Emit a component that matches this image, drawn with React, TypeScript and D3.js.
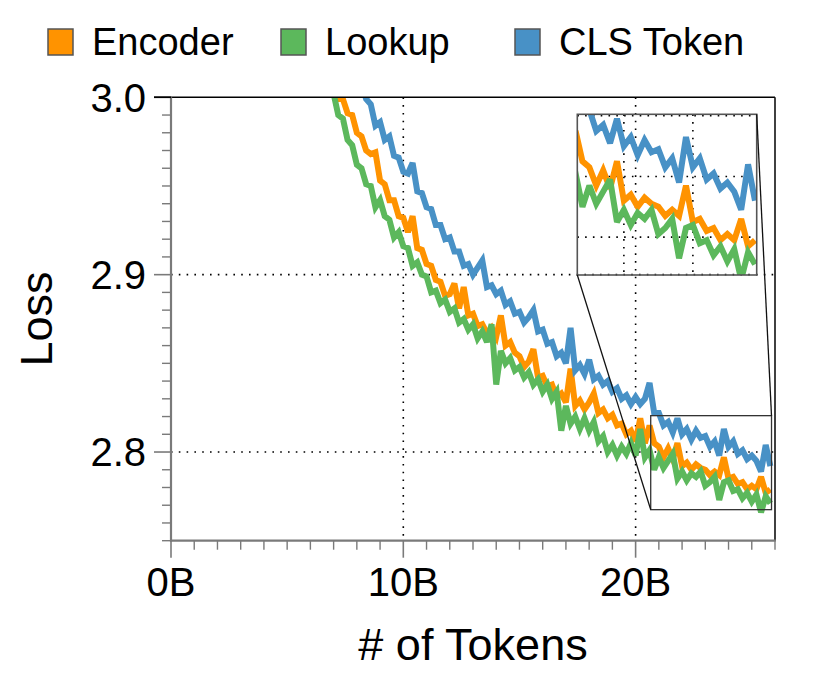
import React from 'react';
import * as d3 from 'd3';

// ---- data ----
const TOKENS_START_B = 6.6;
const TOKENS_STEP_B = 0.2;

const encoderLoss = [
  3.019, 3.010, 3.008, 2.999, 2.999, 2.991, 2.990, 2.980, 2.978, 2.970,
  2.968, 2.969, 2.953, 2.951, 2.942, 2.942, 2.933, 2.932, 2.924, 2.933,
  2.915, 2.914, 2.906, 2.905, 2.897, 2.896, 2.888, 2.889, 2.895, 2.881,
  2.893, 2.877, 2.878, 2.871, 2.872, 2.867, 2.870, 2.865, 2.877, 2.860,
  2.862, 2.856, 2.854, 2.848, 2.851, 2.858, 2.842, 2.843, 2.837, 2.838,
  2.831, 2.833, 2.828, 2.847, 2.826, 2.829, 2.824, 2.828, 2.833, 2.822,
  2.824, 2.819, 2.821, 2.815, 2.816, 2.810, 2.812, 2.806, 2.819, 2.805,
  2.815, 2.805, 2.803, 2.797, 2.802, 2.796, 2.805, 2.792, 2.794, 2.790,
  2.793, 2.791, 2.790, 2.787, 2.789, 2.787, 2.797, 2.785, 2.786, 2.782,
  2.783, 2.779, 2.781, 2.779, 2.786, 2.777, 2.779,
];

const lookupLoss = [
  3.016, 3.004, 3.002, 2.990, 2.988, 2.976, 2.973, 2.962, 2.960, 2.951,
  2.950, 2.938, 2.942, 2.933, 2.931, 2.921, 2.924, 2.916, 2.915, 2.905,
  2.907, 2.900, 2.899, 2.890, 2.891, 2.884, 2.886, 2.879, 2.881, 2.873,
  2.875, 2.869, 2.872, 2.864, 2.868, 2.862, 2.872, 2.838, 2.857, 2.850,
  2.853, 2.846, 2.848, 2.842, 2.845, 2.838, 2.841, 2.834, 2.838, 2.830,
  2.834, 2.812, 2.826, 2.816, 2.820, 2.813, 2.819, 2.812, 2.817, 2.806,
  2.809, 2.800, 2.804, 2.798, 2.803, 2.799, 2.805, 2.798, 2.813, 2.797,
  2.801, 2.790, 2.797, 2.791, 2.795, 2.799, 2.785, 2.789, 2.784, 2.788,
  2.786, 2.789, 2.781, 2.783, 2.786, 2.773, 2.783, 2.784, 2.778, 2.779,
  2.774, 2.777, 2.772, 2.776, 2.766, 2.775, 2.771,
];

const clsLoss = [
  3.062, 3.052, 3.048, 3.038, 3.034, 3.024, 3.020, 3.011, 3.008, 2.999,
  2.996, 2.984, 2.986, 2.976, 2.978, 2.967, 2.966, 2.958, 2.957, 2.963,
  2.947, 2.946, 2.938, 2.937, 2.928, 2.928, 2.920, 2.921, 2.913, 2.913,
  2.905, 2.906, 2.900, 2.904, 2.908, 2.893, 2.894, 2.889, 2.891, 2.883,
  2.885, 2.878, 2.879, 2.873, 2.876, 2.880, 2.868, 2.869, 2.861, 2.862,
  2.854, 2.856, 2.850, 2.870, 2.846, 2.849, 2.844, 2.852, 2.841, 2.843,
  2.838, 2.840, 2.834, 2.836, 2.830, 2.832, 2.827, 2.831, 2.827, 2.830,
  2.839, 2.822, 2.822, 2.815, 2.817, 2.811, 2.819, 2.810, 2.813, 2.807,
  2.812, 2.808, 2.809, 2.803, 2.806, 2.798, 2.813, 2.803, 2.806, 2.799,
  2.801, 2.796, 2.798, 2.795, 2.789, 2.804, 2.792,
];

const tokensB = encoderLoss.map((_, i) => +(TOKENS_START_B + i * TOKENS_STEP_B).toFixed(2));

const seriesNames = ['Encoder', 'Lookup', 'CLS Token'];
const seriesColors = ['#FF9300', '#5CB85C', '#4891C6'];
const seriesValues = [encoderLoss, lookupLoss, clsLoss];

const xMajorTicks = [0, 10, 20];
const xTickLabels = ['0B', '10B', '20B'];
const yMajorTicks = [3.0, 2.9, 2.8];
const yTickLabels = ['3.0', '2.9', '2.8'];
const insetXGrid = [22, 24];
const insetYGrid = [2.78, 2.8, 2.82];
const insetXDomain = [20.65, 25.85];
const insetYDomain = [2.7675, 2.8205];

const FONT = '"Liberation Sans", Arial, Helvetica, sans-serif';

export default function App() {
  const W = 831, H = 684;
  const L = 171, R = 775, T = 97.3, B = 540.7;
  const x = d3.scaleLinear().domain([0, 26]).range([L, R]);
  const y = d3.scaleLinear().domain([2.75, 3.0]).range([B, T]);

  const iL = 577.3, iR = 756.7, iT = 114.3, iB = 275;
  const ix = d3.scaleLinear().domain(insetXDomain).range([iL, iR]);
  const iy = d3.scaleLinear().domain(insetYDomain).range([iB, iT]);

  const mainLine = d3.line<number>().x((_, i) => x(tokensB[i])).y((d) => y(d));
  const insetLine = d3.line<number>().x((_, i) => ix(tokensB[i])).y((d) => iy(d));

  const xMinor = d3.range(0, 27, 1).filter((v) => !xMajorTicks.includes(v));
  const yMinor = d3.range(0, 26).map((i) => +(2.75 + i * 0.01).toFixed(2)).filter(
    (v) => !yMajorTicks.some((m) => Math.abs(m - v) < 1e-6)
  );

  const rx0 = x(insetXDomain[0]), rx1 = x(insetXDomain[1]);
  const ry0 = y(insetYDomain[1]), ry1 = y(insetYDomain[0]);

  const dot = { stroke: '#000', strokeWidth: 1.6, strokeDasharray: '1.6,6.2' };
  const axisGrey = '#7a7a7a';
  const lw = 6;

  const legendX = [48, 281, 515];

  return (
    <svg width={W} height={H} style={{ position: 'absolute', left: 0, top: 0, background: '#fff' }}>
      <defs>
        <clipPath id="mainClip">
          <rect x={L} y={T} width={R - L} height={B - T} />
        </clipPath>
        <clipPath id="insetClip">
          <rect x={iL} y={iT} width={iR - iL} height={iB - iT} />
        </clipPath>
      </defs>
      <rect x={0} y={0} width={W} height={H} fill="#fff" />

      {/* main grid */}
      {[10, 20].map((v) => (
        <line key={'gx' + v} x1={x(v)} x2={x(v)} y1={T} y2={B} {...dot} />
      ))}
      {[2.9, 2.8].map((v) => (
        <line key={'gy' + v} x1={L} x2={R} y1={y(v)} y2={y(v)} {...dot} />
      ))}

      {/* main series */}
      <g clipPath="url(#mainClip)">
        {seriesValues.map((vals, s) => (
          <path key={'m' + s} d={mainLine(vals) || ''} fill="none" stroke={seriesColors[s]}
            strokeWidth={lw} strokeLinejoin="miter" strokeMiterlimit={3} strokeLinecap="butt" />
        ))}
      </g>

      {/* inset grid */}
      {insetXGrid.map((v) => (
        <line key={'igx' + v} x1={ix(v)} x2={ix(v)} y1={iT} y2={iB} {...dot} />
      ))}
      {insetYGrid.map((v) => (
        <line key={'igy' + v} x1={iL} x2={iR} y1={iy(v)} y2={iy(v)} {...dot} />
      ))}
      <g clipPath="url(#insetClip)">
        {seriesValues.map((vals, s) => (
          <path key={'i' + s} d={insetLine(vals) || ''} fill="none" stroke={seriesColors[s]}
            strokeWidth={lw} strokeLinejoin="miter" strokeMiterlimit={3} strokeLinecap="butt" />
        ))}
      </g>
      <rect x={iL} y={iT} width={iR - iL} height={iB - iT} fill="none" stroke="#555" strokeWidth={1.6} />

      {/* zoom region marker and connectors */}
      <rect x={rx0} y={ry0} width={rx1 - rx0} height={ry1 - ry0} fill="none" stroke="#333" strokeWidth={1.3} />
      <line x1={iR} y1={iT} x2={rx1} y2={ry0} stroke="#111" strokeWidth={1.3} />
      <line x1={iL} y1={iB} x2={rx0} y2={ry1} stroke="#111" strokeWidth={1.3} />

      {/* spines */}
      <line x1={154} x2={R} y1={T} y2={T} stroke="#000" strokeWidth={1.6} />
      <line x1={R} x2={R} y1={T} y2={B} stroke="#111" strokeWidth={1.6} />
      <line x1={L} x2={L} y1={T} y2={B + 1} stroke={axisGrey} strokeWidth={2.2} />
      <line x1={L - 1} x2={R + 0.8} y1={B} y2={B} stroke={axisGrey} strokeWidth={2.2} />

      {/* y ticks */}
      {yMajorTicks.map((v) => (
        <line key={'yt' + v} x1={154} x2={L} y1={y(v)} y2={y(v)} stroke={v === 3.0 ? '#000' : axisGrey} strokeWidth={1.6} />
      ))}
      {yMinor.map((v) => (
        <line key={'ym' + v} x1={162} x2={L} y1={y(v)} y2={y(v)} stroke={axisGrey} strokeWidth={1.4} />
      ))}
      {yMajorTicks.map((v, i) => (
        <text key={'yl' + v} x={146} y={y(v) + 14.3} textAnchor="end" fontFamily={FONT} fontSize={40} fill="#000">
          {yTickLabels[i]}
        </text>
      ))}

      {/* x ticks */}
      {xMajorTicks.map((v) => (
        <line key={'xt' + v} x1={x(v)} x2={x(v)} y1={B} y2={B + 17} stroke={axisGrey} strokeWidth={1.6} />
      ))}
      {xMinor.map((v) => (
        <line key={'xm' + v} x1={x(v)} x2={x(v)} y1={B} y2={B + 9} stroke={axisGrey} strokeWidth={1.4} />
      ))}
      {xMajorTicks.map((v, i) => (
        <text key={'xl' + v} x={x(v)} y={596} textAnchor="middle" fontFamily={FONT} fontSize={40} fill="#000">
          {xTickLabels[i]}
        </text>
      ))}

      {/* axis titles */}
      <text x={(L + R) / 2} y={660} textAnchor="middle" fontFamily={FONT} fontSize={45} fill="#000">
        # of Tokens
      </text>
      <text transform={`translate(52,${(T + B) / 2}) rotate(-90)`} textAnchor="middle" fontFamily={FONT} fontSize={45} fill="#000">
        Loss
      </text>

      {/* legend */}
      {seriesNames.map((name, i) => (
        <g key={'lg' + i}>
          <rect x={legendX[i]} y={29} width={25} height={26} fill={seriesColors[i]} stroke="#555" strokeWidth={1.5} />
          <text x={legendX[i] + 44} y={55} fontFamily={FONT} fontSize={38} fill="#000">
            {name}
          </text>
        </g>
      ))}
    </svg>
  );
}
